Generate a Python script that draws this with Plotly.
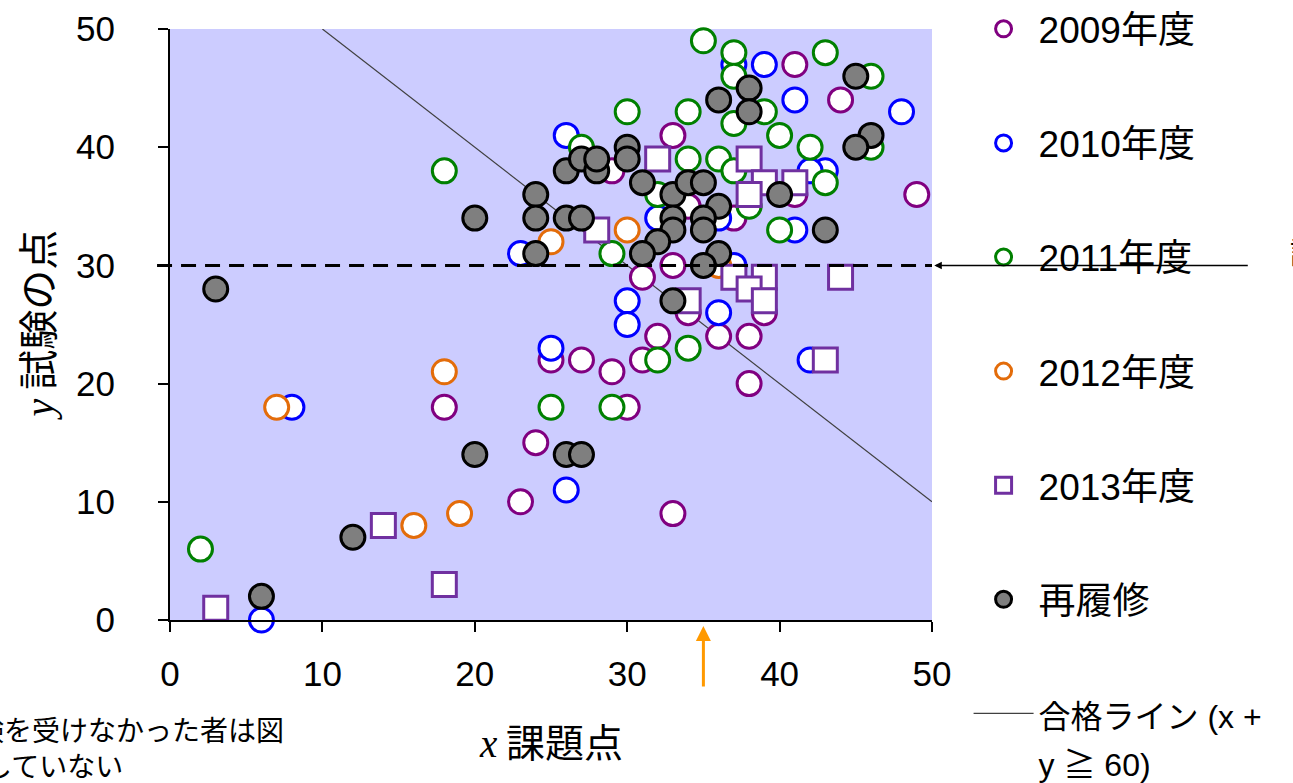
import plotly.graph_objects as go

# ---- data (x = 課題点, y = 試験の点) ----
x2009 = [49, 41, 44, 33, 29, 41, 37, 31, 33, 34, 39, 32, 36, 38, 25, 27, 29, 31, 38, 30, 18, 24, 23, 33, 34]
y2009 = [36, 47, 44, 41, 38, 36, 34, 29, 30, 26, 26, 24, 24, 24, 22, 22, 21, 22, 20, 18, 18, 15, 10, 9, 35]

x2010 = [39, 37, 41, 48, 26, 43, 42, 32, 36, 41, 23, 30, 30, 36, 25, 42, 37, 8, 26, 6]
y2010 = [47, 47, 44, 43, 41, 38, 38, 34, 34, 33, 31, 27, 25, 26, 23, 22, 30, 18, 11, 0]

x2011 = [35, 37, 43, 37, 46, 30, 34, 39, 37, 40, 27, 42, 46, 34, 36, 37, 43, 32, 38, 40, 29, 34, 32, 25, 29, 2, 18]
y2011 = [49, 48, 48, 46, 46, 43, 43, 43, 42, 41, 40, 40, 40, 39, 39, 38, 37, 36, 35, 33, 31, 23, 22, 18, 18, 6, 38]

x2012 = [7, 18, 16, 19, 25, 30, 36]
y2012 = [18, 21, 8, 9, 32, 33, 30]

x2013 = [3, 14, 18, 28, 32, 38, 39, 41, 38, 37, 39, 38, 39, 44, 34, 43]
y2013 = [1, 8, 3, 33, 39, 39, 37, 37, 36, 29, 29, 28, 27, 29, 27, 22]

x_re = [3, 6, 12, 20, 26, 27, 20, 33, 24, 24, 26, 27, 24, 26, 27, 28, 28, 30, 30, 31,
        33, 33, 33, 32, 31, 34, 35, 36, 35, 35, 36, 35, 40, 43, 36, 38, 38, 45, 46, 45]
y_re = [28, 2, 7, 14, 14, 14, 34, 27, 36, 34, 34, 34, 31, 38, 39, 38, 39, 40, 39, 37,
        36, 34, 33, 32, 31, 37, 37, 35, 34, 33, 31, 30, 36, 33, 44, 45, 43, 46, 41, 40]

pass_x = [10, 50]
pass_y = [50, 10]
threshold_y = 30
mark_x = 35

x_ticks = [0, 10, 20, 30, 40, 50]
y_ticks = [0, 10, 20, 30, 40, 50]

names = ["2009年度", "2010年度", "2011年度", "2012年度", "2013年度", "再履修"]
line_name = "<span style='font-size:32px'>合格ライン (x +<br>y ≧ 60)</span>"

FONT = "Liberation Sans, Arial, Noto Sans CJK JP, sans-serif"
CJK = "Noto Sans CJK JP, Liberation Sans, sans-serif"

fig = go.Figure()

fig.add_trace(go.Scatter(x=pass_x, y=pass_y, mode="lines", name=line_name,
                         line=dict(color="#404040", width=1.2),
                         legendgroup="g7", legendrank=7))

def open_circ(xs, ys, name, color, rank, symbol="circle"):
    fig.add_trace(go.Scatter(
        x=xs, y=ys, mode="markers", name=name, legendgroup="g%d" % rank, legendrank=rank,
        cliponaxis=False,
        marker=dict(symbol=symbol, size=24, color="white", line=dict(color=color, width=3))))

open_circ(x2009, y2009, names[0], "#800080", 1)
open_circ(x2010, y2010, names[1], "#0000ff", 2)
open_circ(x2011, y2011, names[2], "#008000", 3)
open_circ(x2012, y2012, names[3], "#e36c0a", 4)
open_circ(x2013, y2013, names[4], "#7030a0", 5, symbol="square")

fig.add_trace(go.Scatter(
    x=x_re, y=y_re, mode="markers", name=names[5], legendgroup="g6", legendrank=6,
    cliponaxis=False,
    marker=dict(symbol="circle", size=24, color="#7f7f7f", line=dict(color="black", width=3))))

axis_common = dict(showgrid=False, zeroline=False, showline=True, linecolor="black", linewidth=2,
                   ticks="outside", ticklen=10, tickwidth=2, tickcolor="black",
                   tickfont=dict(family=FONT, size=35, color="black"))

fig.update_xaxes(range=[0, 50], tickvals=x_ticks, ticklabelstandoff=12, **axis_common)
fig.update_yaxes(range=[0, 50], tickvals=y_ticks, ticklabelstandoff=36, **axis_common)

fig.update_layout(
    width=1293, height=783,
    margin=dict(l=170, r=361, t=29, b=163, autoexpand=False),
    plot_bgcolor="#ccccff", paper_bgcolor="white",
    font=dict(family=CJK, color="black"),
    legend=dict(x=1.048, y=1.052, xanchor="left", yanchor="top", traceorder="grouped",
                font=dict(family=FONT, size=37, color="black"), maxheight=3000,
                itemwidth=60, tracegroupgap=63, valign="top", bgcolor="rgba(0,0,0,0)"),
    shapes=[dict(type="line", xref="paper", yref="y", x0=-0.017, x1=1, y0=threshold_y, y1=threshold_y,
                 line=dict(color="black", width=3, dash="15px,9px"), layer="above")],
    annotations=[
        dict(xref="paper", yref="paper", x=-0.176, y=0.5, xanchor="center", yanchor="middle",
             textangle=-90, showarrow=False,
             text="<span style='font-family:Liberation Serif;font-style:italic'>y</span> 試験の点",
             font=dict(family=CJK, size=40)),
        dict(xref="paper", yref="paper", x=0.5, y=-0.203, xanchor="center", yanchor="middle",
             showarrow=False,
             text="<span style='font-family:Liberation Serif;font-style:italic'>x</span> 課題点",
             font=dict(family=CJK, size=39)),
        dict(xref="paper", yref="paper", x=0.152, y=-0.184, xanchor="right", yanchor="middle",
             showarrow=False, text="試験を受けなかった者は図", font=dict(family=CJK, size=28)),
        dict(xref="paper", yref="paper", x=-0.059, y=-0.245, xanchor="right", yanchor="middle",
             showarrow=False, text="に示していない", font=dict(family=CJK, size=28)),
        dict(xref="paper", yref="paper", x=1.467, y=0.626, xanchor="left", yanchor="middle",
             showarrow=False, text="試験の合格ライン", font=dict(family=CJK, size=30)),
        dict(xref="paper", yref="y", x=1.003, y=threshold_y, text="", showarrow=True,
             ax=315, ay=0, arrowhead=2, arrowsize=1, arrowwidth=1.5, arrowcolor="black"),
        dict(xref="x", yref="paper", x=mark_x, y=-0.01, text="", showarrow=True,
             ax=0, ay=62, arrowhead=2, arrowsize=1, arrowwidth=3, arrowcolor="#ff9900"),
    ],
)

fig.write_html("out.html", config={"displayModeBar": False},
               post_script="document.body.style.margin='0px';")
